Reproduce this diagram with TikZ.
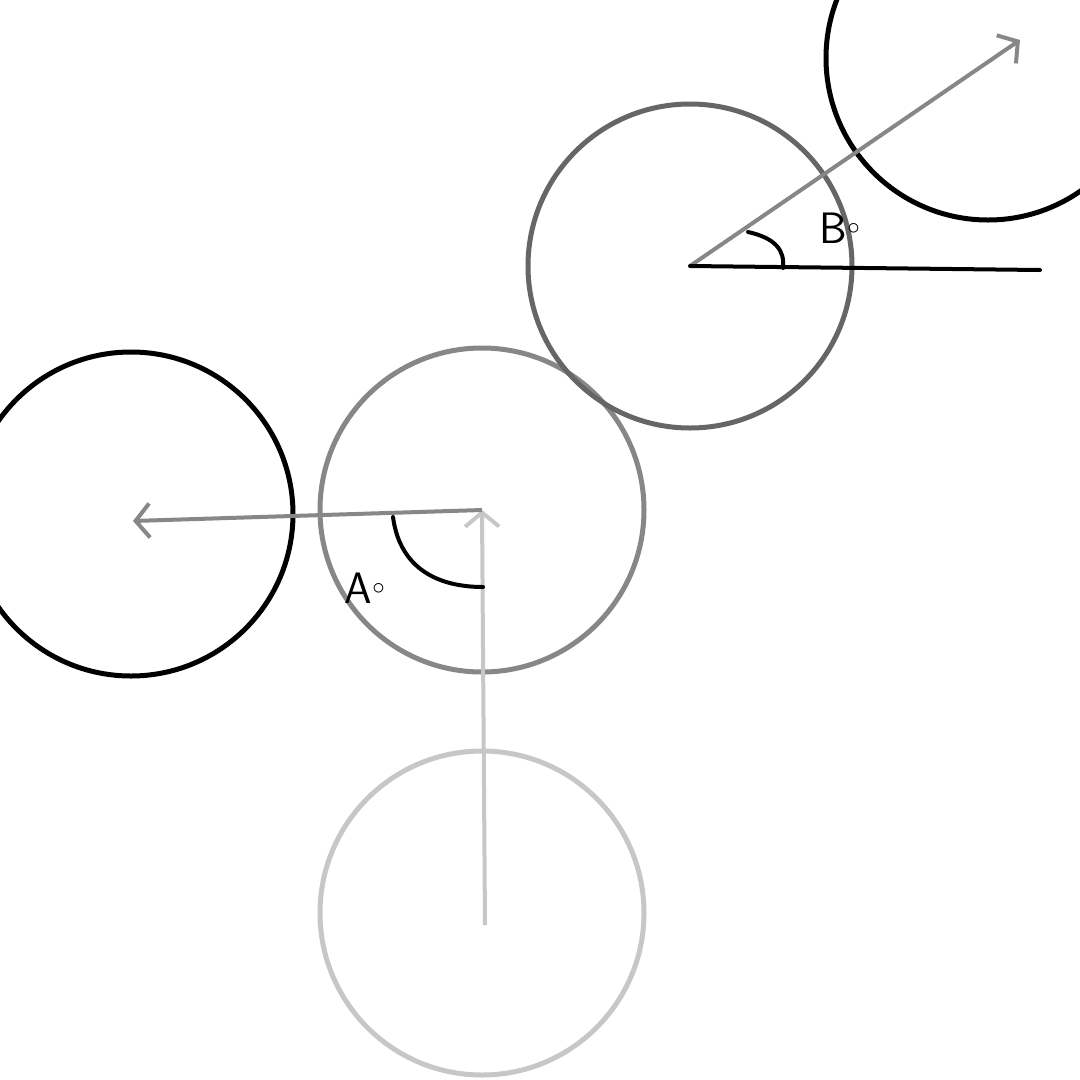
\documentclass[tikz,border=0pt]{standalone}
\usetikzlibrary{arrows.meta}

\definecolor{faint}{gray}{0.78}
\definecolor{mid}{gray}{0.53}
\definecolor{dark}{gray}{0.40}
\tikzset{
  ball/.style={draw=#1, line width=5pt, circle, minimum size=324pt, inner sep=0pt},
  dir/.style={draw=#1, line width=4pt, -{Straight Barb[length=14pt,width=34pt]}},
  ang/.style={line width=4pt, line cap=round},
  deg/.style={font=\sffamily\fontsize{44}{44}\selectfont}
}

\begin{document}
\begin{tikzpicture}[x=1pt,y=-1pt]
\useasboundingbox (0,0) rectangle (1080,1080);
\fill[white] (0,0) rectangle (1080,1080);

\node[ball=faint] (bottom) at (482,913) {};
\node[ball=mid] (middle) at (482,510) {};
\node[ball=black] (left) at (131,514) {};
\node[ball=dark] (upper) at (690,266) {};
\node[ball=black] (topright) at (988,58) {};

\coordinate (tipL) at (133,521);
\coordinate (tipR) at (1020,40);
\coordinate (horiz) at (1040,270);

\draw[dir=faint] (485,925) -- (middle.center);
\draw[dir=mid] (middle.center) -- (tipL);
\draw[dir=mid] (upper.center) -- (tipR);
\draw[ang] (upper.center) -- (horiz);

% angle marks
\draw[ang] (393,517) .. controls (400,570) and (440,587) .. (483,587);
\draw[ang] (748,232) .. controls (775,238) and (785,250) .. (783,268);
\node[deg] (labA) at (365,588) {A$^\circ$};
\node[deg] (labB) at (840,228) {B$^\circ$};
\end{tikzpicture}
\end{document}
